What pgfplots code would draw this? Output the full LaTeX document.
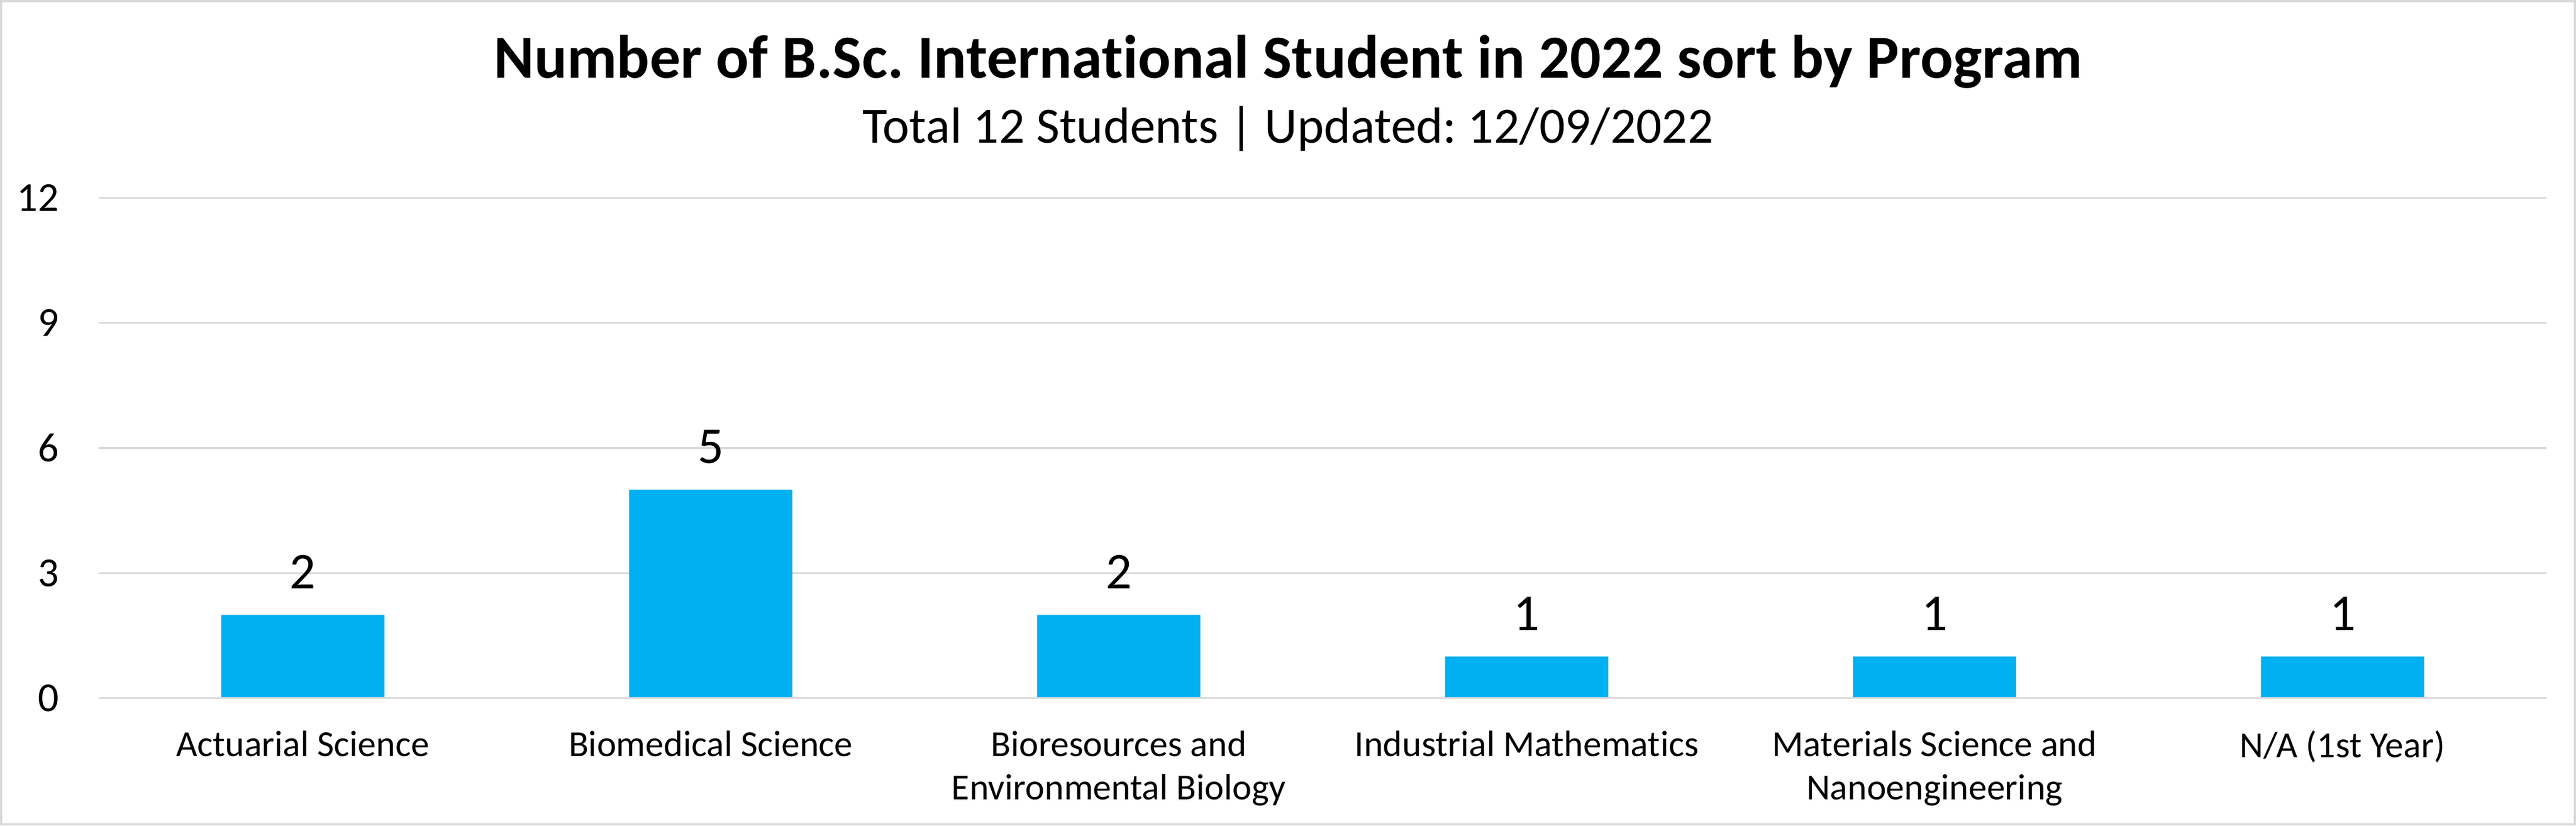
\documentclass[border=0pt]{standalone}
\usepackage{pgfplots}
\pgfplotsset{compat=1.18}
\usepackage{fontspec}
\setmainfont{Carlito}[Ligatures=NoCommon]
\definecolor{barblue}{HTML}{00B0F0}
\definecolor{gridgray}{HTML}{D9D9D9}
\frenchspacing
\begin{document}
\begin{tikzpicture}
\useasboundingbox (0,0) rectangle (618.53pt,198.27pt);
\draw[gridgray, line width=0.45pt] (0.25pt,0.25pt) rectangle (618.28pt,198.02pt);
\node[anchor=base, font=\fontsize{14.7}{17}\selectfont\bfseries] at (309.27pt,179.6pt)
  {Number of B.Sc. International Student in 2022 sort by Program};
\node[anchor=base, font=\fontsize{12.2}{14}\selectfont] at (309.27pt,164pt)
  {Total 12 Students | Updated: 12/09/2022};
\begin{axis}[
    at={(23.73pt,30.57pt)}, anchor=south west,
    scale only axis,
    width=587.73pt, height=120.2pt,
    xmin=-0.5, xmax=5.5,
    ymin=0, ymax=12,
    ytick={0,3,6,9,12},
    xtick={0,1,2,3,4,5},
    xticklabels={Actuarial Science, Biomedical Science, Bioresources and\\Environmental Biology, Industrial Mathematics, Materials Science and\\Nanoengineering, N/A (1st Year)},
    axis line style={draw=none},
    major tick length=0pt,
    ymajorgrids,
    grid style={gridgray, line width=0.45pt},
    /pgf/number format/assume math mode=true,
    yticklabel style={font=\fontsize{9.9}{12}\selectfont, anchor=east, inner sep=0pt, xshift=-9.4pt},
    xticklabel style={font=\fontsize{8.8}{10.4}\selectfont, align=center, anchor=north, inner sep=0pt, yshift=-7.6pt},
    nodes near coords,
    every node near coord/.append style={font=\fontsize{12.4}{14}\selectfont, anchor=south, inner sep=0pt, yshift=6.1pt},
    clip=false,
]
\addplot[ybar, bar width=39.2pt, fill=barblue, draw=none] coordinates {
    (0,2)
    (1,5)
    (2,2)
    (3,1)
    (4,1)
    (5,1)
};
% x axis baseline
\draw[gridgray, line width=0.45pt] (axis cs:-0.5,0) -- (axis cs:5.5,0);
\end{axis}
\end{tikzpicture}
\end{document}
